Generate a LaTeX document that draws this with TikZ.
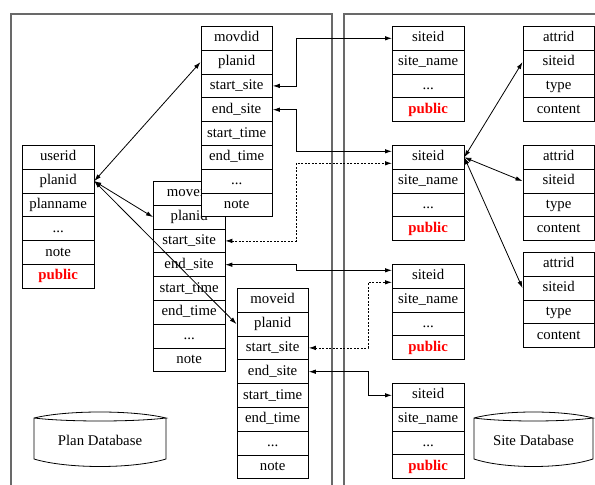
\documentclass[tikz,border=0pt]{standalone}
\usepackage{fontspec}
\setmainfont{Liberation Serif}
\usetikzlibrary{arrows.meta}
\newcommand\pubtxt{\textcolor{red}{\textbf{public}}}
\newcommand\ellip{...}
\tikzset{
  cell/.style={draw, fill=white, line width=0.8pt, minimum width=71.5pt, minimum height=23.8pt,
    text height=10.5pt, text depth=3.5pt,
    inner sep=0pt, anchor=north west, font=\fontsize{14.8pt}{17pt}\selectfont},
  conn/.style={line width=0.8pt, {Latex[length=7pt,width=4.5pt]}-{Latex[length=7pt,width=4.5pt]}},
  dconn/.style={conn, dashed, dash pattern=on 2pt off 1.5pt},
  panel/.style={line width=1.3pt, draw={rgb,255:red,105;green,105;blue,105}},
  cyl/.style={line width=0.8pt},
  cyltext/.style={font=\fontsize{14.8pt}{17pt}\selectfont}
}
\newcommand\mktab[4]{%
  \foreach \cellt [count=\i] in {#4} {
    \node[cell] (#1-\i) at (#2, {#3+(\i-1)*23.8}) {\cellt};
  }%
}
\begin{document}
\begin{tikzpicture}[x=1pt, y=-1pt]
\useasboundingbox (0,0) rectangle (595,485);
% panels
\draw[panel] (11,486) -- (11,14) -- (332,14) -- (332,486);
\draw[panel] (344,486) -- (344,14) -- (596,14);
% plan tables
\mktab{U}{22}{145}{{userid},{planid},{planname},{\ellip},{note},{\pubtxt}}
\mktab{B}{153}{181}{{moveid},{planid},{start\_site},{end\_site},{start\_time},{end\_time},{\ellip},{note}}
\mktab{A}{200.5}{26}{{movdid},{planid},{start\_site},{end\_site},{start\_time},{end\_time},{\ellip},{note}}
\mktab{C}{236.5}{288}{{moveid},{planid},{start\_site},{end\_site},{start\_time},{end\_time},{\ellip},{note}}
% site tables
\mktab{S1}{392}{26}{{siteid},{site\_name},{\ellip},{\pubtxt}}
\mktab{S2}{392}{145}{{siteid},{site\_name},{\ellip},{\pubtxt}}
\mktab{S3}{392}{264}{{siteid},{site\_name},{\ellip},{\pubtxt}}
\mktab{S4}{392}{383}{{siteid},{site\_name},{\ellip},{\pubtxt}}
% attribute tables
\mktab{T1}{522.5}{26}{{attrid},{siteid},{type},{content}}
\mktab{T2}{522.5}{145}{{attrid},{siteid},{type},{content}}
\mktab{T3}{522.5}{252}{{attrid},{siteid},{type},{content}}
% cylinders
\draw[cyl] (34,418) .. controls (67,410) and (133,410) .. (166,418)
  .. controls (133,422) and (67,422) .. (34,418) -- (34,459)
  .. controls (67,469) and (133,469) .. (166,459) -- (166,418);
\node[cyltext] (pdb) at (100,440) {Plan Database};
\draw[cyl] (474,418) .. controls (504,410) and (563,410) .. (593,418)
  .. controls (563,422) and (504,422) .. (474,418) -- (474,459)
  .. controls (504,469) and (563,469) .. (593,459) -- (593,418);
\node[cyltext] (sdb) at (533.5,440) {Site Database};
% connectors
\coordinate (vx) at (296,0);
\coordinate (vy) at (368,0);
\draw[conn] (U-2.east) -- (A-2.west);
\draw[conn] (U-2.east) -- (B-2.west);
\draw[conn] (U-2.east) -- (C-2.west);
\draw[conn] (A-3.east) -- (A-3.east -| vx) |- (S1-1.west);
\draw[conn] (A-4.east) -- (A-4.east -| vx) |- ([yshift=6pt]S2-1.west);
\draw[dconn] (B-3.east) -- (B-3.east -| vx) |- ([yshift=-6pt]S2-1.west);
\draw[conn] (B-4.east) -- (B-4.east -| vx) |- ([yshift=6pt]S3-1.west);
\draw[dconn] (C-3.east) -- (C-3.east -| vy) |- ([yshift=-6pt]S3-1.west);
\draw[conn] (C-4.east) -- (C-4.east -| vy) |- (S4-1.west);
\draw[conn] (S2-1.east) -- (T1-2.west);
\draw[conn] (S2-1.east) -- (T2-2.west);
\draw[conn] (S2-1.east) -- (T3-2.west);
\end{tikzpicture}
\end{document}
